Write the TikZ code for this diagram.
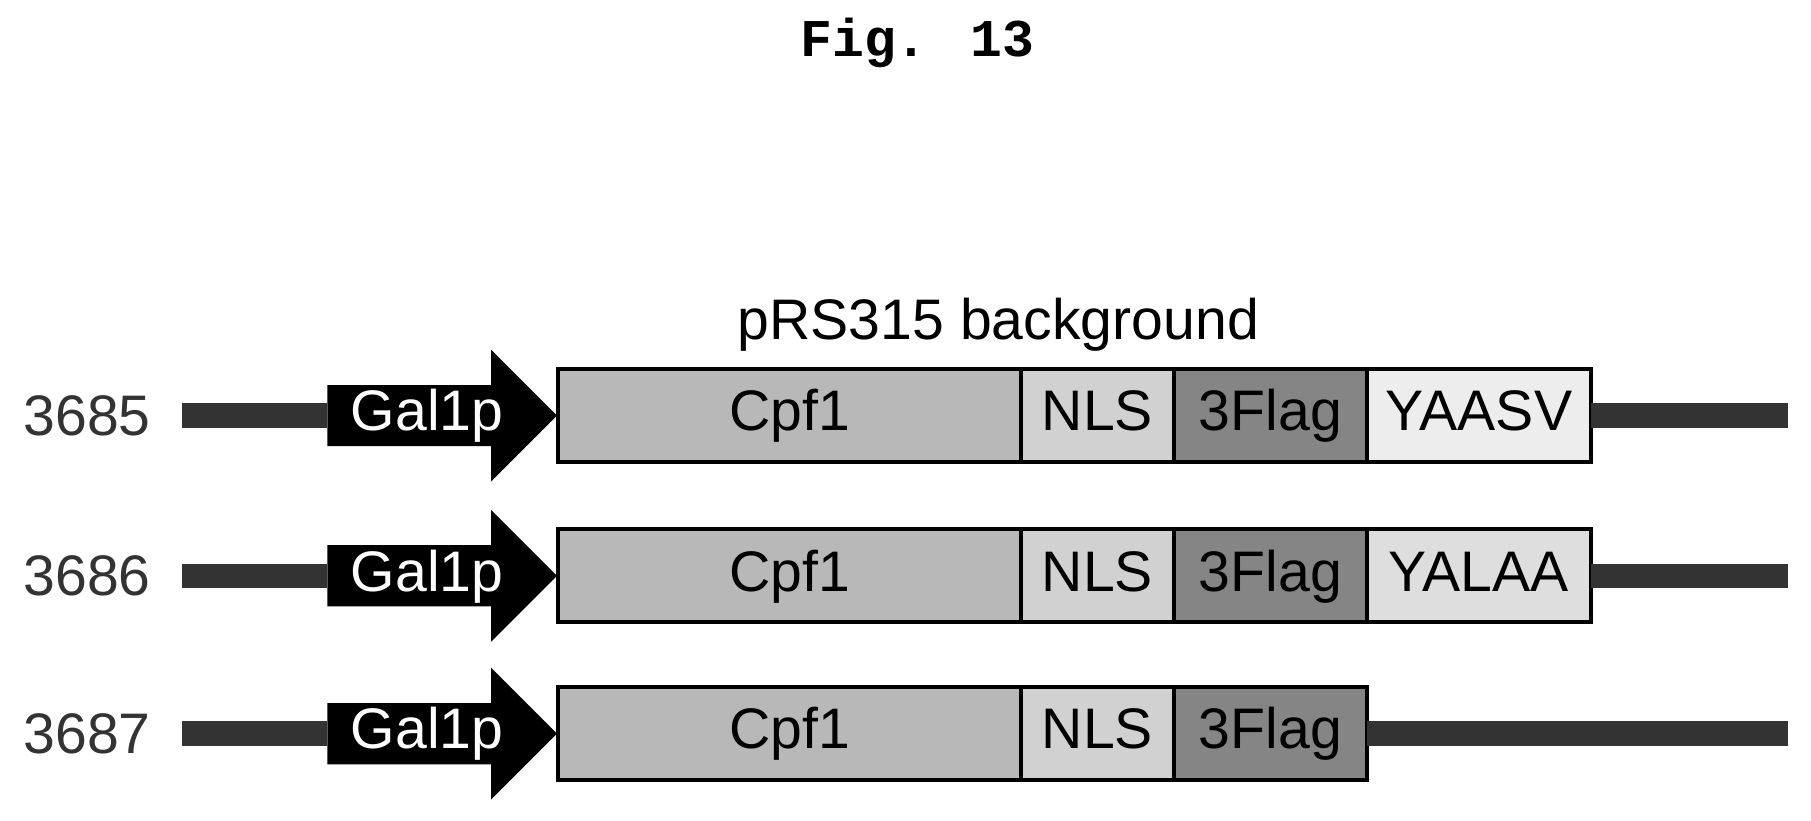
\documentclass[tikz,border=0pt]{standalone}
\usepackage{fontspec}
\setmainfont{Liberation Sans}
\newfontfamily\figfont{Liberation Mono}
\usetikzlibrary{positioning, shapes.arrows}
\definecolor{cpfgray}{gray}{0.72}
\definecolor{nlsgray}{gray}{0.82}
\definecolor{flaggray}{gray}{0.52}
\definecolor{tailgray}{gray}{0.93}
\definecolor{tailgraytwo}{gray}{0.87}

\begin{document}
\begin{tikzpicture}[
    x=0.01cm, y=-0.01cm,
    seg/.style={rectangle, draw=black, line width=1pt, outer sep=0pt, minimum height=0.8cm, inner sep=0pt, text height=1.0em, text depth=0.25em, font=\fontsize{14}{14}\selectfont},
    promoter/.style={single arrow, fill=black, draw=black, minimum height=1.96cm, minimum width=1.1cm, single arrow head extend=0.26cm, single arrow tip angle=90, inner sep=0pt, text=white, text height=1.0em, text depth=0.25em, font=\fontsize{14}{14}\selectfont},
    backbone/.style={line width=6pt, color=black!80},
    rowlabel/.style={font=\fontsize{14}{14}\selectfont, color=black!80}
]
\useasboundingbox (0,0) rectangle (1560,707);
\node[font=\figfont\bfseries\fontsize{13}{13}\selectfont] (title) at (790,37) {Fig. 13};
\node[font=\fontsize{14}{14}\selectfont] (bg) at (860,280) {pRS315 background};

\foreach \row/\yy in {3685/358, 3686/496, 3687/632}{
  \node[rowlabel] (lab\row) at (75,\yy) {\row};
  \node[promoter, anchor=west] (gal\row) at (282,\yy) {Gal1p\hspace{0.5cm}};
  \node[seg, fill=cpfgray, minimum width=3.98cm, anchor=west] (cpf\row) at (481,\yy) {Cpf1};
  \node[seg, fill=nlsgray, minimum width=1.32cm, right=0pt of cpf\row] (nls\row) {NLS};
  \node[seg, fill=flaggray, minimum width=1.66cm, right=0pt of nls\row] (flag\row) {3Flag};
  \coordinate (start\row) at (157,\yy);
  \coordinate (end\row) at (1540,\yy);
  \draw[backbone] (start\row) -- (gal\row.west);
}
\foreach \row/\tail/\tailcol in {3685/YAASV/tailgray, 3686/YALAA/tailgraytwo}{
  \node[seg, fill=\tailcol, minimum width=1.93cm, right=0pt of flag\row] (tail\row) {\tail};
  \draw[backbone] (tail\row) -- (end\row);
}
\draw[backbone] (flag3687) -- (end3687);
\end{tikzpicture}
\end{document}
